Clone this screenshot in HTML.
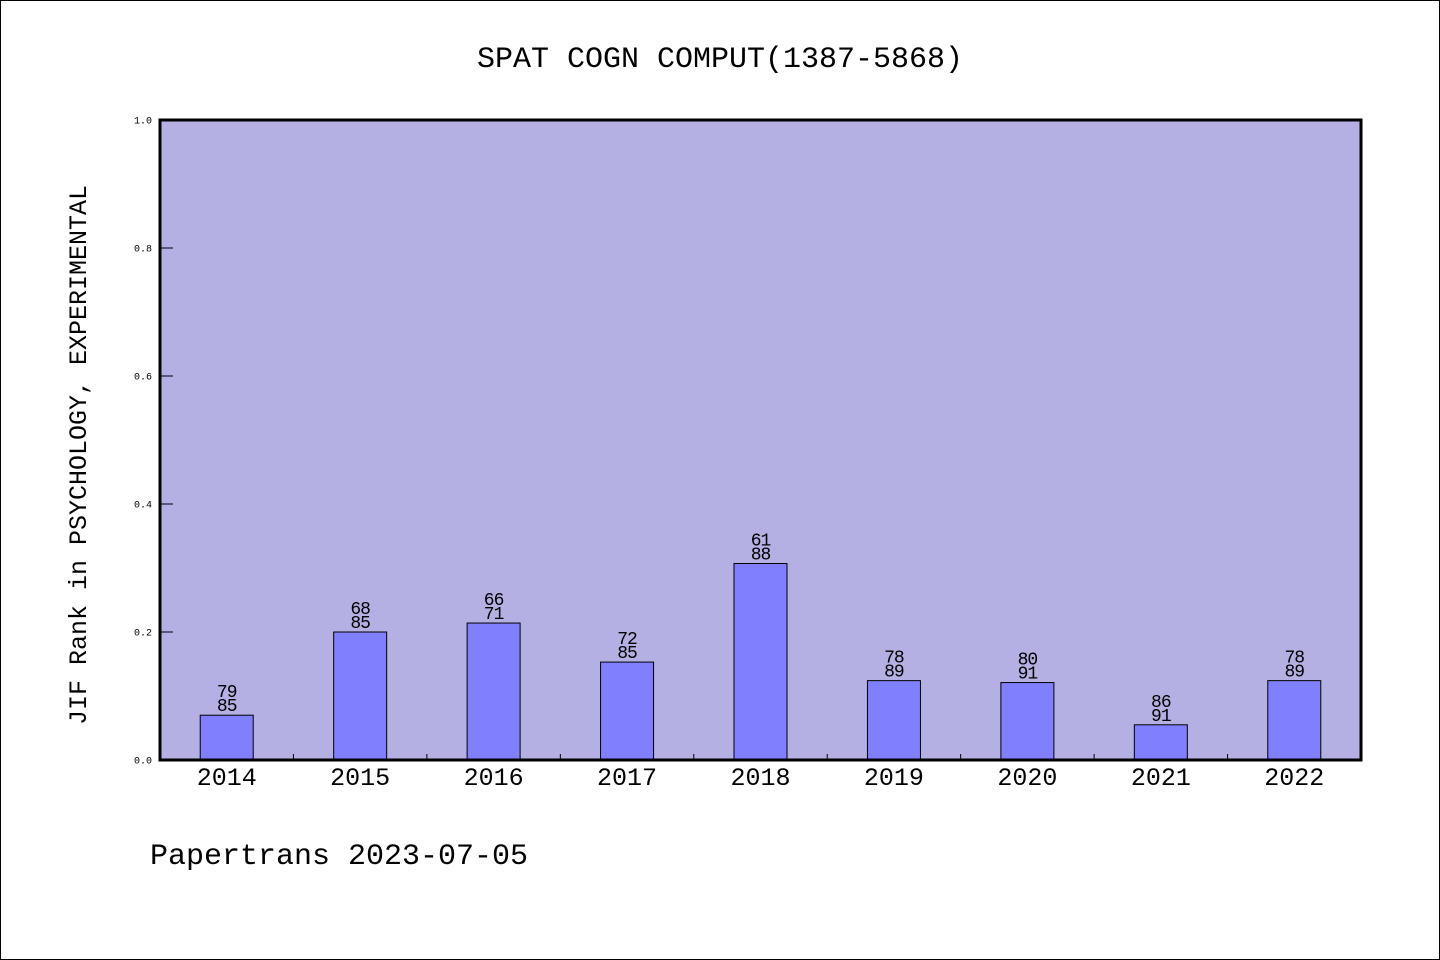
<!DOCTYPE html>
<html><head><meta charset="utf-8"><style>
html,body{margin:0;padding:0;background:#fff}
svg{display:block}
text{font-family:"WenQuanYi Zen Hei","Liberation Mono",monospace;fill:#000}
</style></head><body>
<svg id="chart" width="1440" height="960">
<rect x="0.5" y="0.5" width="1439" height="959" fill="#fff" stroke="#000"/>
<text x="720" y="67" font-size="30" text-anchor="middle">SPAT COGN COMPUT(1387-5868)</text>
<rect x="160" y="120" width="1201" height="640" fill="#b5b0e3"/>
<g id="bars"></g>
<g id="yticks"></g>
<g id="xticks"></g>
<rect x="160" y="120" width="1201" height="640" fill="none" stroke="#000" stroke-width="3"/>
<text transform="translate(86,455) rotate(-90)" font-size="25" text-anchor="middle">JIF Rank in PSYCHOLOGY, EXPERIMENTAL</text>
<text x="150" y="864" font-size="30">Papertrans 2023-07-05</text>
</svg>
<script>
const years = ["2014","2015","2016","2017","2018","2019","2020","2021","2022"];
const values = [0.070,0.200,0.214,0.153,0.307,0.124,0.121,0.055,0.124];
const ranks = ["79","68","66","72","61","78","80","86","78"];
const totals = ["85","85","71","85","88","89","91","91","89"];
const yTicks = [0,0.2,0.4,0.6,0.8,1.0];
const NS="http://www.w3.org/2000/svg";
const X0=160,X1=1361,Y0=760,Y1=120;
const band=(X1-X0)/years.length;
const xc=i=>X0+band*(i+0.5);
const y=v=>Y0-(v)*(Y0-Y1);
function mk(tag,attrs,parent){const e=document.createElementNS(NS,tag);for(const k in attrs)e.setAttribute(k,attrs[k]);parent.appendChild(e);return e;}
const gb=document.getElementById('bars'),gy=document.getElementById('yticks'),gx=document.getElementById('xticks');
years.forEach((yr,i)=>{
  const w=53,top=y(values[i]);
  const r=mk('rect',{x:xc(i)-w/2,y:top,width:w,height:Y0-top,fill:'#8080ff',stroke:'#000','stroke-width':1},gb);
  
  
  const t1=mk('text',{x:xc(i),y:top-18,'font-size':18,'text-anchor':'middle','letter-spacing':'-1'},gb);t1.textContent=ranks[i];
  
  
  const t2=mk('text',{x:xc(i),y:top-4,'font-size':18,'text-anchor':'middle','letter-spacing':'-1'},gb);t2.textContent=totals[i];
  
  
  const xl=mk('text',{x:xc(i),y:785,'font-size':25,'text-anchor':'middle'},gx);xl.textContent=yr;
  
  
  if(i>0){const tk=mk('line',{x1:X0+band*i,x2:X0+band*i,y1:Y0,y2:Y0-6,stroke:'#000','stroke-width':1},gx);
  
  }
});
yTicks.forEach(v=>{
  const tk=mk('line',{x1:X0,x2:X0+13,y1:y(v),y2:y(v),stroke:'#000','stroke-width':1},gy);
  
  
  const t=mk('text',{x:152,y:y(v)+3.5,'font-size':10,'text-anchor':'end'},gy);t.textContent=v.toFixed(1);
  
  
});
</script>
</body></html>
